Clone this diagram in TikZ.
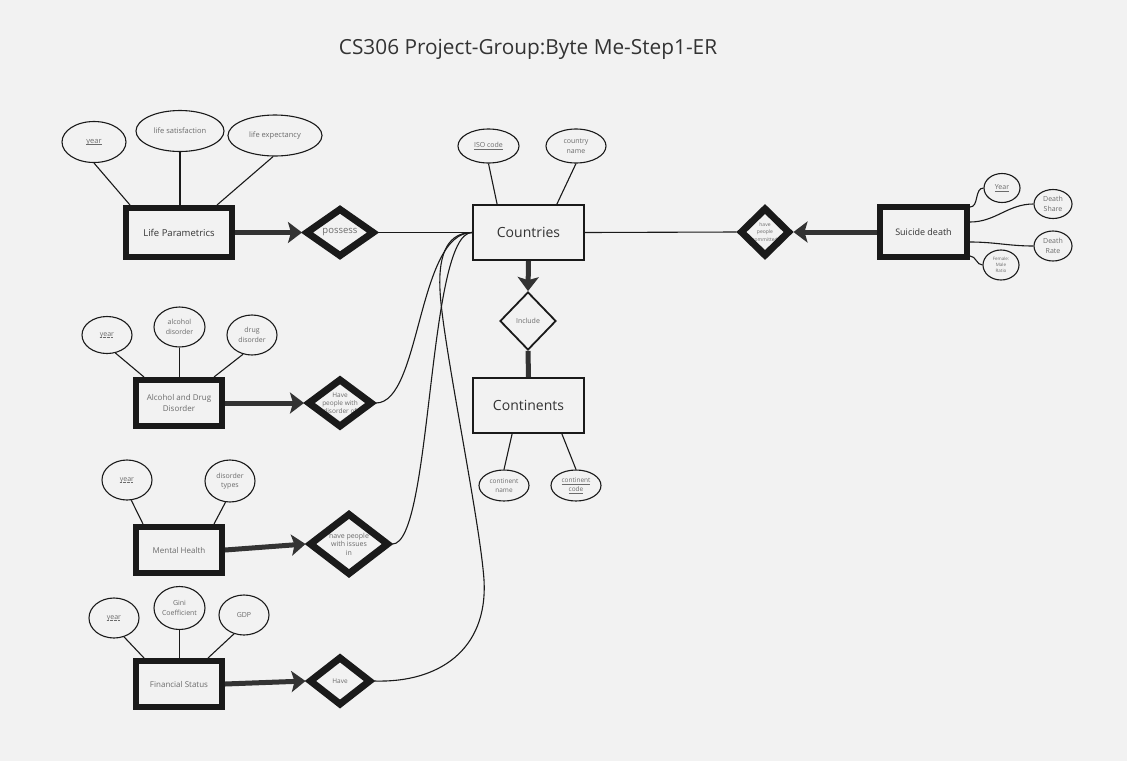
\documentclass[tikz,border=0pt]{standalone}
\usepackage{fontspec}
\setmainfont{Open Sans}
\usetikzlibrary{shapes.geometric,arrows.meta}
\definecolor{bg}{HTML}{F2F2F2}
\definecolor{ink}{HTML}{1A1A1A}
\definecolor{arr}{HTML}{333333}
\definecolor{txt}{HTML}{333333}
\definecolor{ltxt}{HTML}{6B6B6B}
\newcommand{\fsz}[2]{\fontsize{#1}{#2}\selectfont}
\newcommand{\solidul}[1]{\leavevmode\setbox0\hbox{#1}\rlap{\raisebox{-1.6pt}{\rule{\wd0}{0.45pt}}}\box0}
\newcommand{\dotul}[1]{\leavevmode\setbox0\hbox{#1}\rlap{\raisebox{-1.8pt}{\hbox to \wd0{\leaders\hbox to 1.3pt{\hss\rule{0.7pt}{0.6pt}\hss}\hfill}}}\box0}
\begin{document}
\begin{tikzpicture}[x=1pt,y=-1pt,
  entthick/.style={rectangle,draw=ink,line width=6pt,fill=bg,inner sep=0pt,align=center,text=ltxt,font=\fsz{8}{11}},
  entthin/.style={rectangle,draw=ink,line width=1.8pt,fill=bg,inner sep=0pt,align=center,text=txt,font=\fsz{14}{17}},
  reldia/.style={diamond,draw=ink,line width=7pt,inner sep=0pt},
  reldiathin/.style={diamond,draw=ink,line width=1.8pt,inner sep=0pt},
  dlabel/.style={inner sep=0pt,align=center,text=ltxt},
  attr/.style={ellipse,draw=ink,line width=1.1pt,fill=bg,inner sep=0pt,align=center,text=ltxt,font=\fsz{7}{9.5}},
  conn/.style={draw=ink,line width=1.1pt},
  arrowline/.style={draw=arr,line width=5pt,-{Stealth[length=14pt,width=21pt,inset=3pt]}},
  thickline/.style={draw=arr,line width=5pt}]
\fill[bg] (0,0) rectangle (1127,761);
\useasboundingbox (0,0) rectangle (1127,761);

% title
\node[text=txt,font=\fsz{20.8}{25}] (title) at (528,49) {CS306 Project-Group:Byte Me-Step1-ER};

% ---------- Life Parametrics ----------
\node[entthick,minimum width=106pt,minimum height=49pt,text=txt,font=\fsz{9.5}{12}] (lp) at (179,232.5) {Life Parametrics};
\node[attr,minimum width=64pt,minimum height=41pt,font=\fsz{7.5}{9.5}] (lpy) at (94,142) {\solidul{year}};
\node[attr,minimum width=88pt,minimum height=41pt,font=\fsz{7.5}{9.5}] (lps) at (180,131) {life satisfaction};
\node[attr,minimum width=94pt,minimum height=41pt,font=\fsz{7.5}{9.5}] (lpe) at (275,135.5) {life expectancy};
\draw[conn] (lpy.south) -- ([xshift=7pt]lp.north west);
\draw[conn] (lps.south) -- (lps.south |- lp.north);
\draw[conn] (lpe.265) -- ([xshift=-18pt]lp.north east);
\coordinate (posc) at (340,232.5);
\node[dlabel,font=\fsz{9.5}{12}] (posl) at (posc) {possess};
\node[reldia,minimum width=69pt,minimum height=49pt] (pos) at (posc) {};
\draw[arrowline] (lp.east) -- (pos.west);

% ---------- Countries ----------
\node[entthin,minimum width=111pt,minimum height=55pt] (c) at (528.5,232.5) {Countries};
\node[attr,minimum width=61pt,minimum height=34pt,font=\fsz{7}{9.5}] (iso) at (488.5,146) {\solidul{ISO code}};
\node[attr,minimum width=60pt,minimum height=34pt,font=\fsz{7}{9.5}] (cnm) at (576,146) {country\\name};
\draw[conn] (iso.south) -- ([xshift=25pt]c.north west);
\draw[conn] (cnm.south) -- ([xshift=-28pt]c.north east);
\draw[conn] (pos.east) -- (c.west);

% ---------- Suicide death ----------
\coordinate (sdrc) at (765,232);
\node[dlabel,font=\fsz{5}{7.5}] (sdrl) at (sdrc) {have\\people\\committed};
\node[reldia,minimum width=50pt,minimum height=49pt] (sdr) at (sdrc) {};
\node[entthick,minimum width=87pt,minimum height=50pt,text=txt,font=\fsz{9}{12}] (sd) at (923.5,232) {Suicide death};
\draw[conn] (c.east) -- (sdr.west);
\draw[arrowline] (sd.west) -- (sdr.east);
\node[attr,minimum width=36pt,minimum height=29pt] (yr) at (1002,188) {\solidul{Year}};
\node[attr,minimum width=38pt,minimum height=29pt] (ds) at (1053,204) {Death\\Share};
\node[attr,minimum width=38pt,minimum height=30pt] (dr) at (1053,246) {Death\\Rate};
\node[attr,minimum width=36pt,minimum height=30pt,font=\fsz{4.5}{6}] (fm) at (1001,265) {Female:\\Male\\Ratio};
\draw[conn] ([yshift=-3pt]sd.north east) to[out=0,in=180] (yr.west);
\draw[conn] ([yshift=-18pt]sd.north east) to[out=0,in=180] (ds.west);
\draw[conn] ([yshift=18pt]sd.south east) to[out=0,in=180] (dr.west);
\draw[conn] ([yshift=4pt]sd.south east) to[out=0,in=180] (fm.west);

% ---------- Include / Continents ----------
\coordinate (incc) at (528,321);
\node[dlabel,font=\fsz{7}{9}] (incl) at (incc) {Include};
\node[reldiathin,minimum width=56pt,minimum height=58pt] (inc) at (incc) {};
\draw[arrowline] (c.south) -- (inc.north);
\node[entthin,minimum width=111pt,minimum height=55pt] (cont) at (528.5,405.5) {Continents};
\draw[thickline] (inc.south) -- (cont.north);
\node[attr,minimum width=50pt,minimum height=31pt,font=\fsz{6.5}{9}] (cn) at (504,485.5) {continent\\name};
\node[attr,minimum width=50pt,minimum height=31pt,font=\fsz{6.5}{9}] (cc) at (576,485.5) {\solidul{continent}\\\solidul{code}};
\draw[conn] ([xshift=40pt]cont.south west) -- (cn.north);
\draw[conn] ([xshift=-23pt]cont.south east) -- (cc.north);

% ---------- Alcohol and Drug Disorder ----------
\node[entthick,minimum width=86pt,minimum height=46pt] (ad) at (179,403) {Alcohol and Drug\\Disorder};
\node[attr,minimum width=50pt,minimum height=37pt] (ady) at (107,335) {\dotul{year}};
\node[attr,minimum width=51pt,minimum height=40pt] (ada) at (179.5,327) {alcohol\\disorder};
\node[attr,minimum width=50pt,minimum height=40pt] (add) at (252,335) {drug\\disorder};
\draw[conn] (ady.-65) -- ([xshift=11pt]ad.north west);
\draw[conn] (ada.south) -- (ada.south |- ad.north);
\draw[conn] (add.245) -- ([xshift=-11pt]ad.north east);
\coordinate (adrc) at (340,403);
\node[dlabel,font=\fsz{6.5}{8}] (adrl) at (adrc) {Have\\people with\\disorder of};
\node[reldia,minimum width=65pt,minimum height=49pt] (adr) at (adrc) {};
\draw[arrowline] (ad.east) -- (adr.west);
\draw[conn] (adr.east) .. controls +(45,0) and +(-55,0) .. (c.west);

% ---------- Mental Health ----------
\node[entthick,minimum width=86pt,minimum height=46pt] (mh) at (179,550) {Mental Health};
\node[attr,minimum width=50pt,minimum height=40pt] (mhy) at (127,480) {\dotul{year}};
\node[attr,minimum width=50pt,minimum height=42pt] (mht) at (230,481) {disorder\\types};
\draw[conn] (mhy.-78) -- ([xshift=10pt]mh.north west);
\draw[conn] (mht.-102) -- ([xshift=-11pt]mh.north east);
\coordinate (mhrc) at (349,544);
\node[dlabel,font=\fsz{7}{8.5}] (mhrl) at (mhrc) {have people\\with issues\\in};
\node[reldia,minimum width=80pt,minimum height=62pt] (mhr) at (mhrc) {};
\draw[arrowline] (mh.east) -- (mhr.west);
\draw[conn] (mhr.east) .. controls +(40,0) and +(-45,0) .. (c.west);

% ---------- Financial Status ----------
\node[entthick,minimum width=86pt,minimum height=46pt] (fs) at (179,684) {Financial Status};
\node[attr,minimum width=50pt,minimum height=40pt] (fsy) at (114,618) {\dotul{year}};
\node[attr,minimum width=51pt,minimum height=43pt] (fsg) at (179.5,608) {Gini\\Coefficient};
\node[attr,minimum width=50pt,minimum height=40pt] (fsd) at (244,615) {GDP};
\draw[conn] (fsy.-62) -- ([xshift=11pt]fs.north west);
\draw[conn] (fsg.south) -- (fsg.south |- fs.north);
\draw[conn] (fsd.-118) -- ([xshift=-17pt]fs.north east);
\coordinate (fsrc) at (340,681);
\node[dlabel,font=\fsz{6.5}{8}] (fsrl) at (fsrc) {Have};
\node[reldia,minimum width=62pt,minimum height=49pt] (fsr) at (fsrc) {};
\draw[arrowline] (fs.east) -- (fsr.west);
\coordinate (hv1) at (484,580);
\coordinate (hv2) at (440,290);
\draw[conn] (fsr.east) .. controls +(64,2) and +(4,70) .. (hv1)
  .. controls +(-4,-60) and +(2,50) .. (hv2)
  .. controls +(-2,-40) and +(-22,0) .. (c.west);
\end{tikzpicture}
\end{document}
